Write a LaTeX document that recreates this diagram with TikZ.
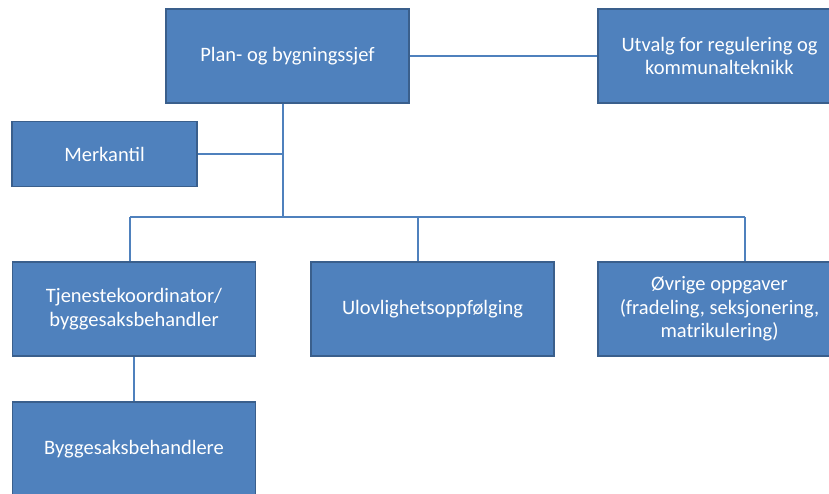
\documentclass[tikz,border=0pt]{standalone}
\usepackage{fontspec}
\setmainfont{Carlito}
\definecolor{boxblue}{HTML}{4F81BD}
\definecolor{boxedge}{HTML}{3A5F8C}
\begin{document}
\begin{tikzpicture}[x=1pt,y=-1pt]
        \tikzstyle{unit}=[rectangle,draw=boxedge,line width=1.8pt,fill=boxblue,text=white,align=center,minimum width=243pt,minimum height=94pt,inner sep=2pt,font=\fontsize{20.5}{23.5}\selectfont]
        \tikzstyle{link}=[draw=boxblue,line width=1.1pt]
        \useasboundingbox (0,0) rectangle (829,493);
       \begin{scope}
         \node [unit] (sjef) at (287.5,56) {Plan- og bygningssjef};
         \node [unit] (utvalg) at (719.5,56) {Utvalg for regulering og\\kommunalteknikk};
         \node [unit,minimum width=185pt,minimum height=65pt] (merk) at (104.5,154) {Merkantil};
         \node [unit] (koord) at (134,309) {Tjenestekoordinator/\\byggesaksbehandler};
         \node [unit] (ulovlig) at (432.5,309) {Ulovlighetsoppfølging};
         \node [unit] (ovrige) at (719.5,309) {Øvrige oppgaver\\(fradeling, seksjonering,\\matrikulering)};
         \node [unit] (behandl) at (134,449) {Byggesaksbehandlere};

         \coordinate (bus) at (283,217);
         \coordinate (d1) at (130,217);
         \coordinate (d2) at (418,217);
         \coordinate (d3) at (745,217);

         \path[link] (sjef) -- (utvalg);
         \path[link] (sjef.south -| bus) -- (bus);
         \path[link] (merk.east) -- (merk.east -| bus);
         \path[link] (d1) -- (d3);
         \path[link] (d1) -- (koord.north -| d1);
         \path[link] (d2) -- (ulovlig.north -| d2);
         \path[link] (d3) -- (ovrige.north -| d3);
         \path[link] (koord) -- (behandl);
        \end{scope}
      \end{tikzpicture}
\end{document}
